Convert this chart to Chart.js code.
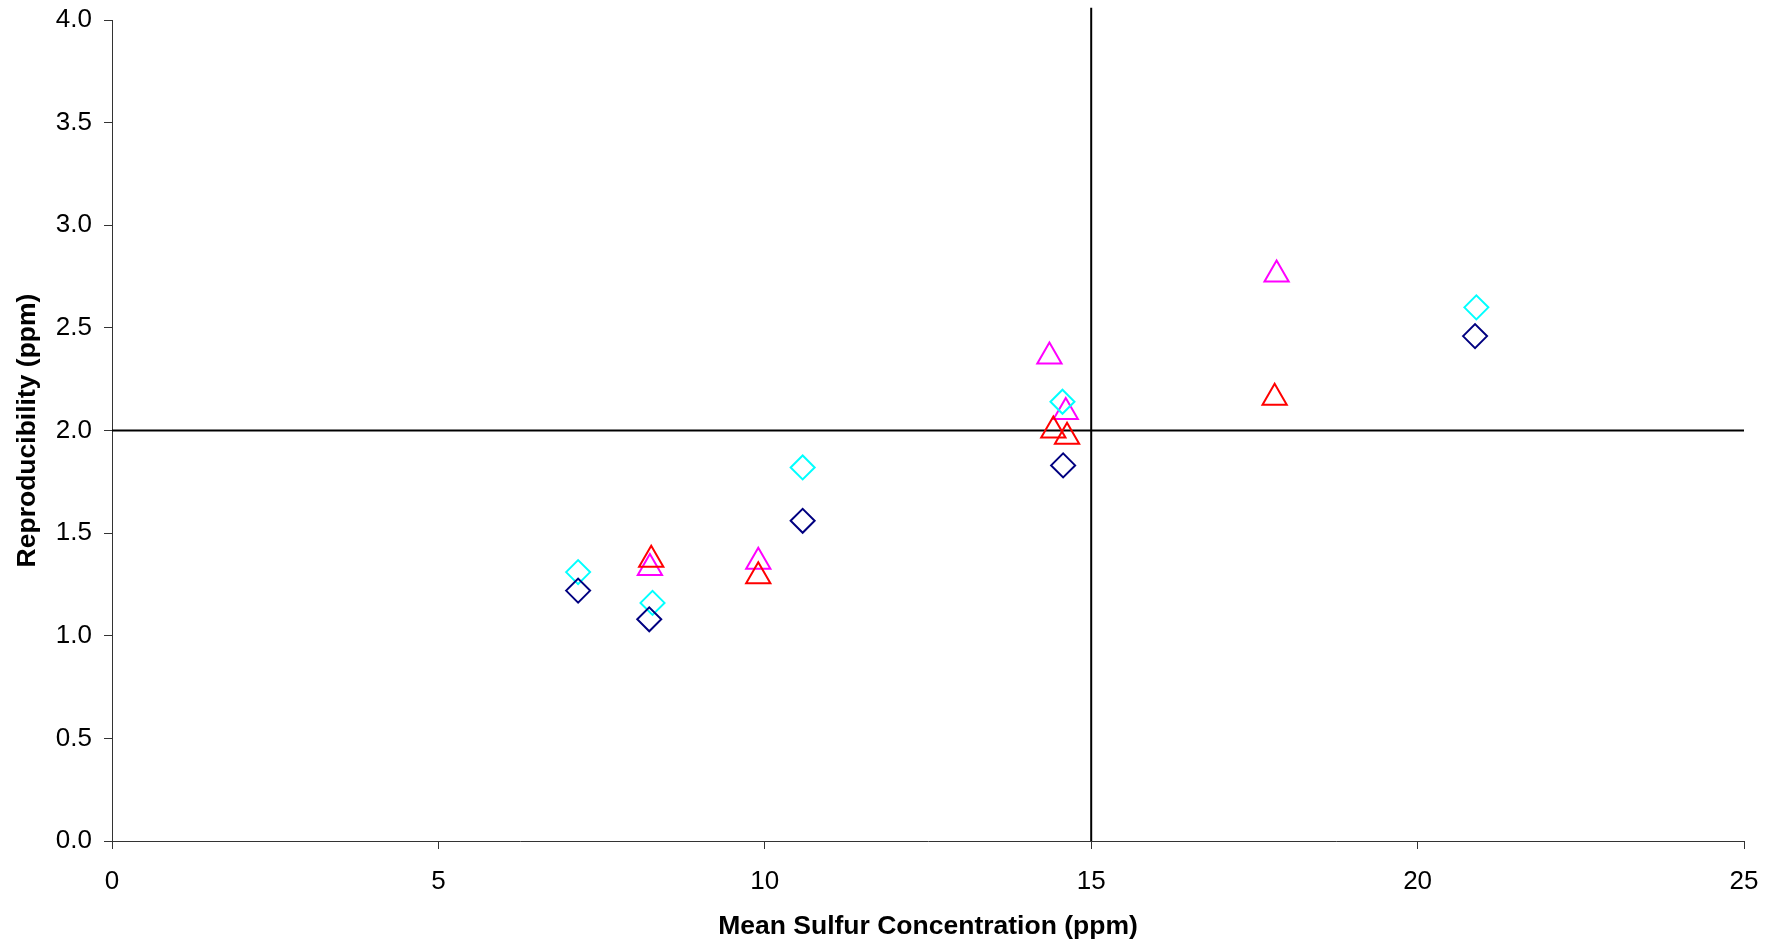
<!DOCTYPE html>
<html>
<head>
<meta charset="utf-8">
<title>Reproducibility vs Mean Sulfur Concentration</title>
<script src="https://cdn.jsdelivr.net/npm/chart.js@4.4.0/dist/chart.umd.min.js"></script>
<style>
    html, body { margin: 0; padding: 0; background: #ffffff; }
    #wrap { width: 1780px; height: 943px; position: relative; }
</style>
</head>
<body>
<div id="wrap"><canvas id="sulfurChart"></canvas></div>
<script>
// Values
const navyX = [7.14, 8.23, 10.58, 14.57, 20.88];
const navyY = [1.22, 1.08, 1.56, 1.83, 2.46];
const cyanX = [7.14, 8.28, 10.58, 14.56, 20.90];
const cyanY = [1.31, 1.16, 1.82, 2.14, 2.60];
const redX = [8.26, 9.90, 14.42, 14.63, 17.81];
const redY = [1.37, 1.29, 2.00, 1.97, 2.16];
const magentaX = [8.24, 9.90, 14.36, 14.61, 17.84];
const magentaY = [1.33, 1.36, 2.36, 2.09, 2.76];

// Reference lines
const vLineX = [15, 15];
const vLineY = [0, 4.06];
const hLineX = [0, 25];
const hLineY = [2, 2];

// Axis tick values
const xTicks = [0, 5, 10, 15, 20, 25];
const yTicks = [0, 0.5, 1.0, 1.5, 2.0, 2.5, 3.0, 3.5, 4.0];

function toPoints(xs, ys) {
    return xs.map(function(x, i) { return { x: x, y: ys[i] }; });
}

const fontFamily = '"Liberation Sans", Arial, Helvetica, sans-serif';

function markerSet(label, xs, ys, color, shape, radius) {
    return {
        label: label,
        data: toPoints(xs, ys),
        showLine: false,
        pointStyle: shape,
        pointRadius: radius,
        pointHoverRadius: radius,
        pointBorderColor: color,
        pointBackgroundColor: 'rgba(0,0,0,0)',
        pointBorderWidth: 2,
        borderColor: color
    };
}

function lineSet(label, xs, ys) {
    return {
        label: label,
        data: toPoints(xs, ys),
        showLine: true,
        borderColor: '#000000',
        borderWidth: 2,
        pointRadius: 0,
        pointHoverRadius: 0,
        clip: false
    };
}

const ctx = document.getElementById('sulfurChart').getContext('2d');

new Chart(ctx, {
    type: 'scatter',
    data: {
        datasets: [
            markerSet('Series A', navyX, navyY, '#000080', 'rectRot', 12),
            markerSet('Series B', cyanX, cyanY, '#00FFFF', 'rectRot', 12),
            markerSet('Series C', redX, redY, '#FF0000', 'triangle', 14),
            markerSet('Series D', magentaX, magentaY, '#FF00FF', 'triangle', 14),
            lineSet('Limit x', vLineX, vLineY),
            lineSet('Limit y', hLineX, hLineY)
        ]
    },
    options: {
        responsive: true,
        maintainAspectRatio: false,
        animation: false,
        layout: {
            padding: { left: 0, top: 20, right: 36, bottom: 0 }
        },
        plugins: {
            legend: { display: false },
            tooltip: { enabled: false }
        },
        scales: {
            x: {
                type: 'linear',
                min: 0,
                max: 25,
                afterFit: function(scale) { scale.height = 102; },
                afterBuildTicks: function(scale) {
                    scale.ticks = xTicks.map(function(v) { return { value: v }; });
                },
                ticks: {
                    color: '#000000',
                    padding: 17,
                    maxRotation: 0,
                    font: { family: fontFamily, size: 26 },
                    callback: function(v) { return String(v); }
                },
                grid: {
                    drawOnChartArea: false,
                    drawTicks: true,
                    tickLength: 8,
                    color: '#333333'
                },
                border: { display: true, color: '#333333', width: 1 },
                title: {
                    display: true,
                    text: 'Mean Sulfur Concentration (ppm)',
                    color: '#000000',
                    padding: { top: 0, bottom: 0 },
                    font: { family: fontFamily, size: 26.5, weight: 'bold' }
                }
            },
            y: {
                type: 'linear',
                min: 0,
                max: 4,
                afterFit: function(scale) { scale.width = 112; },
                afterBuildTicks: function(scale) {
                    scale.ticks = yTicks.map(function(v) { return { value: v }; });
                },
                ticks: {
                    color: '#000000',
                    padding: 12,
                    // small line height keeps the top label from pushing the plot down
                    font: { family: fontFamily, size: 26, lineHeight: 0.6 },
                    callback: function(v) { return Number(v).toFixed(1); }
                },
                grid: {
                    drawOnChartArea: false,
                    drawTicks: true,
                    tickLength: 8,
                    color: '#333333'
                },
                border: { display: true, color: '#333333', width: 1 },
                title: {
                    display: true,
                    text: 'Reproducibility (ppm)',
                    color: '#000000',
                    padding: { top: 12, bottom: 0 },
                    font: { family: fontFamily, size: 26.5, weight: 'bold' }
                }
            }
        }
    }
});
</script>
</body>
</html>
